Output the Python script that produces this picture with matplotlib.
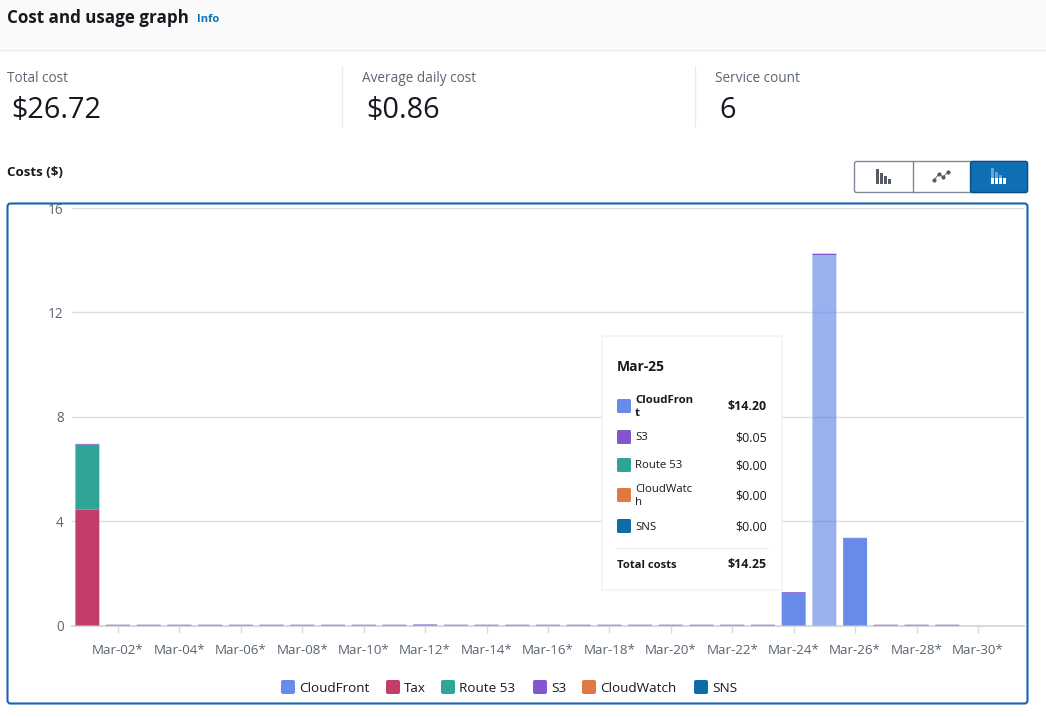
import matplotlib
matplotlib.use('Agg')
import matplotlib.pyplot as plt
from matplotlib.patches import FancyBboxPatch, Rectangle
import numpy as np

plt.rcParams['font.family'] = ['Open Sans', 'DejaVu Sans']

# one value per day, Mar-01 .. Mar-31
days = list(range(1, 32))
cloudfront = [0] * 23 + [1.25, 14.20, 3.35] + [0] * 5
tax = [4.45] + [0] * 30
route53 = [2.48] + [0] * 30
s3 = [0.03, 0.03, 0.03, 0.03, 0.03, 0.03, 0.03, 0.03, 0.03, 0.03, 0.03, 0.04, 0.03, 0.03, 0.03, 0.03,
      0.03, 0.03, 0.03, 0.03, 0.03, 0.03, 0.03, 0.03, 0.05, 0.01, 0.03, 0.03, 0.03, 0, 0]
cloudwatch = [0] * 31
sns = [0] * 31

series_names = ['CloudFront', 'Tax', 'Route 53', 'S3', 'CloudWatch', 'SNS']
series_values = [cloudfront, tax, route53, s3, cloudwatch, sns]
series_colors = ['#688ae8', '#c33d69', '#2ea597', '#8456ce', '#e07941', '#0f6aa8']

hover_day = 25

tick_days = list(range(2, 31, 2))
tick_labels = [f'Mar-{d:02d}*' for d in tick_days]
y_ticks = [0, 4, 8, 12, 16]

stat_labels = ['Total cost', 'Average daily cost', 'Service count']
stat_values = ['$26.72', '$0.86', '6']

tip_wrapped = ['CloudFron\nt', 'S3', 'Route 53', 'CloudWatc\nh', 'SNS']
tip_values = ['$14.20', '$0.05', '$0.00', '$0.00', '$0.00']
tip_colors = ['#688ae8', '#8456ce', '#2ea597', '#e07941', '#0f6aa8']

W, H = 1046, 717
DARK = '#16191f'
GREY = '#5a6572'

fig = plt.figure(figsize=(W / 100, H / 100), dpi=100, facecolor='white')

# chart axes, placed in pixels
left, right, top, bottom = 72, 1024, 208, 625.5
ax = fig.add_axes([left / W, 1 - bottom / H, (right - left) / W, (bottom - top) / H], zorder=1)
ax.patch.set_alpha(0)

bottoms = np.zeros(len(days))
for name, vals, col in zip(series_names, series_values, series_colors):
    for d, v, b in zip(days, vals, bottoms):
        # zero height bars come out as dark hairlines, so leave them out
        if v > 0:
            faded = name == 'CloudFront' and d == hover_day
            ax.bar(d, v, width=0.78, bottom=b, color=col, linewidth=0, alpha=0.67 if faded else 1, snap=False)
    bottoms += np.array(vals)

ax.set_xlim(0.5, 31.5)
ax.set_ylim(0, 16)
ax.set_yticks(y_ticks)
ax.set_xticks(tick_days)
ax.set_xticklabels(tick_labels, fontsize=9.6, color=GREY)
ax.tick_params(axis='x', length=5, width=1, color='#d5dbdb', pad=8)
ax.tick_params(axis='y', length=0, pad=6, labelsize=9.8, labelcolor=GREY)
ax.grid(axis='y', color='#dcdfe2', linewidth=1)
ax.set_axisbelow(True)
for side in ['top', 'right', 'left']:
    ax.spines[side].set_visible(False)
ax.spines['bottom'].set_color('#d5dbdb')
ax.spines['bottom'].set_linewidth(1.5)
ax.spines['bottom'].set_zorder(0.5)

# page furniture on a full figure overlay, in pixels with y going down
ui = fig.add_axes([0, 0, 1, 1], zorder=2)
ui.set_xlim(0, W)
ui.set_ylim(H, 0)
ui.axis('off')
ui.patch.set_alpha(0)


def box(x0, y0, x1, y1, r=2, **kw):
    p = FancyBboxPatch((x0 + r, y0 + r), x1 - x0 - 2 * r, y1 - y0 - 2 * r,
                       boxstyle=f'round,pad={r},rounding_size={r}', **kw)
    ui.add_patch(p)
    return p


# header
ui.add_patch(Rectangle((0, 0), W, 49, color='#fafafa', lw=0))
ui.plot([0, W], [49.5, 49.5], color='#e9ebed', lw=1)
ui.text(7, 18, 'Cost and usage graph', fontsize=12.25, fontweight='bold', color=DARK, va='center')
ui.text(197, 20, 'Info', fontsize=8, fontweight='bold', color='#0972b5', va='center')

# summary numbers
for x, label, value in zip([7, 362, 715], stat_labels, stat_values):
    ui.text(x, 78.5, label, fontsize=9.8, color=GREY, va='center')
    ui.text(x + 4, 110, value, fontsize=20.8, color=DARK, va='center')
for x in [341.5, 694.5]:
    ui.plot([x, x], [66, 126], color='#e9ebed', lw=1)

ui.text(7, 173, 'Costs ($)', fontsize=9.6, fontweight='bold', color=DARK, va='center')

# chart type buttons
box(854.5, 161.5, 1027.5, 192.5, r=2, fc='white', ec='#7d8998', lw=1)
box(970.5, 161.5, 1027.5, 192.5, r=2, fc='#0f6fb5', ec='#0b4f82', lw=1)
ui.plot([912.5, 912.5], [162, 192], color='#7d8998', lw=1)
for x0, h in zip([876, 880, 884, 888], [15, 11, 8, 5]):
    ui.add_patch(Rectangle((x0, 184 - h), 3, h, color='#545b64', lw=0, snap=False))
line_x = [934, 939, 943, 948]
line_y = [180, 174, 177, 172]
ui.plot(line_x, line_y, color='#545b64', lw=0.6, marker='o', ms=2)
for x0, h in zip([991, 995, 999, 1003], [16, 12, 9, 6]):
    ui.add_patch(Rectangle((x0, 184 - h), 3, h, fc='#5fa6dc', lw=0, snap=False))
    ui.add_patch(Rectangle((x0, 184 - min(h, 6)), 3, min(h, 6), fc='white', lw=0, snap=False))

# chart frame
box(7.5, 203.5, 1027.5, 703.5, r=3, fc='none', ec='#1763b0', lw=1.5)

# legend
swatch_x = [281, 386, 441, 533, 582, 694]
for x, name, col in zip(swatch_x, series_names, series_colors):
    box(x, 680, x + 14, 694, r=2, fc=col, ec='none')
    ui.text(x + 18, 688.5, name, fontsize=9.7, color=DARK, va='center')

# hover tooltip
box(601, 335, 783, 591, r=2, fc='#e9ebed', ec='none', alpha=0.45)
ui.add_patch(Rectangle((603, 337), 178, 252, fc='white', lw=0))
ui.text(617, 367, 'Mar-25', fontsize=10, fontweight='bold', color=DARK, va='center')
row_y = [406, 437, 465, 495, 526]
for i, (y, name, val, col) in enumerate(zip(row_y, tip_wrapped, tip_values, tip_colors)):
    box(617, y - 7, 631, y + 7, r=1.5, fc=col, ec='none')
    weight = 'bold' if i == 0 else 'normal'
    ui.text(635, y + 1, name, fontsize=8.2, fontweight=weight, color=DARK, va='center', linespacing=1.15)
    ui.text(767, y + 1, val, fontsize=8.9, fontweight=weight, color=DARK, va='center', ha='right')
ui.plot([617, 767], [547.5, 547.5], color='#e9ebed', lw=1)
ui.text(617, 566, 'Total costs', fontsize=8.1, fontweight='bold', color=DARK, va='center')
ui.text(767, 565, '$14.25', fontsize=8.9, fontweight='bold', color=DARK, va='center', ha='right')

fig.savefig('out.png', dpi=100)
